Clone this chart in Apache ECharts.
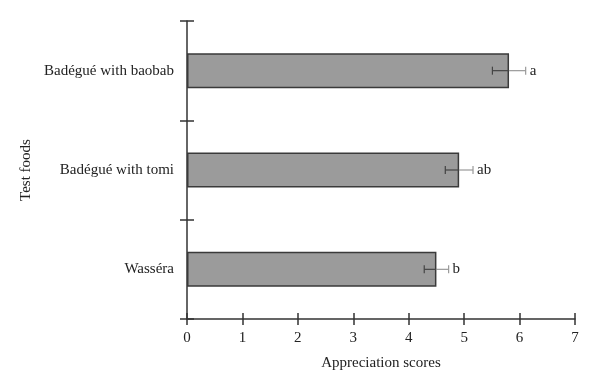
<!DOCTYPE html>
<html><head><meta charset="utf-8">
<script src="https://cdn.jsdelivr.net/npm/echarts@6/dist/echarts.min.js"></script>
<style>html,body{margin:0;padding:0;background:#fff}#c{width:600px;height:391px}</style>
</head><body><div id="c"></div>
<script>
var categories = ['Wasséra', 'Badégué with tomi', 'Badégué with baobab'];
var values = [4.50, 4.91, 5.81];
var errors = [0.22, 0.25, 0.30];
var letters = ['b', 'ab', 'a'];
var xTicks = [0, 1, 2, 3, 4, 5, 6, 7];

var FONT = '"Liberation Serif", "DejaVu Serif", serif';
var AX = '#333';
var chart = echarts.init(document.getElementById('c'));
var errData = values.map(function (v, i) { return [v, i, errors[i], letters[i]]; });

chart.setOption({
  animation: false,
  grid: { left: 187, right: 25, top: 21, bottom: 72, containLabel: false },
  xAxis: [{
    type: 'value', min: xTicks[0], max: xTicks[xTicks.length - 1], interval: 1,
    name: 'Appreciation scores', nameLocation: 'middle', nameGap: 37,
    nameTextStyle: { fontFamily: FONT, fontSize: 15, color: '#222' },
    axisLine: { show: true, lineStyle: { color: AX, width: 1.5 } },
    axisTick: { show: true, inside: false, length: 6, lineStyle: { color: AX, width: 1.5 } },
    axisLabel: { fontFamily: FONT, fontSize: 15, color: '#222', margin: 12 },
    splitLine: { show: false }
  }, {
    type: 'value', position: 'bottom', min: 0, max: 7, interval: 1,
    axisLine: { show: false },
    axisTick: { show: true, inside: true, length: 6, lineStyle: { color: AX, width: 1.5 } },
    axisLabel: { show: false }, splitLine: { show: false }
  }],
  yAxis: [{
    type: 'category', data: categories, boundaryGap: true,
    name: 'Test foods', nameLocation: 'middle', nameGap: 151, nameRotate: 90,
    nameTextStyle: { fontFamily: FONT, fontSize: 15, color: '#222' },
    axisLine: { show: true, lineStyle: { color: AX, width: 1.5 } },
    axisTick: { show: true, inside: false, length: 7, lineStyle: { color: AX, width: 1.5 } },
    axisLabel: { fontFamily: FONT, fontSize: 15, color: '#222', margin: 13 },
    splitLine: { show: false }
  }, {
    type: 'category', data: categories, boundaryGap: true, position: 'left',
    axisLine: { show: false },
    axisTick: { show: true, inside: true, length: 7, lineStyle: { color: AX, width: 1.5 } },
    axisLabel: { show: false }, splitLine: { show: false }
  }],
  series: [{
    type: 'bar', xAxisIndex: 0, yAxisIndex: 0, data: values, barWidth: 35,
    itemStyle: { color: '#9b9b9b', borderColor: '#3a3a3a', borderWidth: 1.5 }
  }, {
    type: 'custom', xAxisIndex: 0, yAxisIndex: 0, data: errData, clip: false, z: 5,
    renderItem: function (params, api) {
      var v = api.value(0), i = api.value(1), e = api.value(2);
      var lo = api.coord([v - e, i]), hi = api.coord([v + e, i]), mid = api.coord([v, i]);
      var y = lo[1], h = 4;
      var dark = { stroke: '#444', lineWidth: 1.2 };
      var light = { stroke: '#9a9a9a', lineWidth: 1.2 };
      return { type: 'group', children: [
        { type: 'line', shape: { x1: lo[0], y1: y, x2: mid[0], y2: y }, style: dark },
        { type: 'line', shape: { x1: lo[0], y1: y - h, x2: lo[0], y2: y + h }, style: dark },
        { type: 'line', shape: { x1: mid[0], y1: y, x2: hi[0], y2: y }, style: light },
        { type: 'line', shape: { x1: hi[0], y1: y - h, x2: hi[0], y2: y + h }, style: light },
        { type: 'text', x: hi[0] + 4, y: y, style: { text: letters[i], fontFamily: FONT, fontSize: 15, fill: '#222', verticalAlign: 'middle', align: 'left' } }
      ] };
    }
  }]
});
</script></body></html>
